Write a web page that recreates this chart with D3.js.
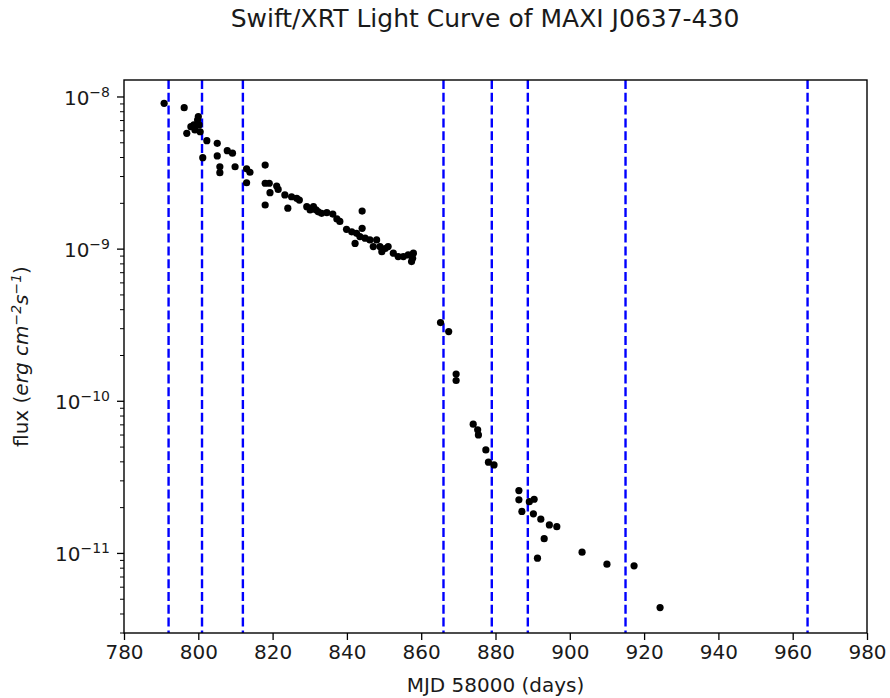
<!DOCTYPE html>
<html>
<head>
<meta charset="utf-8">
<script src="https://cdn.jsdelivr.net/npm/d3@7.9.0/dist/d3.min.js"></script>
<style>
  body { margin: 0; background: #fff; }
  text { font-family: "DejaVu Sans", sans-serif; fill: #1a1a1a; }
</style>
</head>
<body>
<svg id="chart" width="890" height="698"></svg>
<script>
// observation days (MJD - 58000)
const mjd = [
  790.8, 796.2, 796.9, 798.0, 798.8, 799.1, 799.8, 800.2, 800.5, 800.0,
  802.3, 805.1, 801.2, 805.1, 805.8, 805.8, 807.8, 809.2, 809.9, 813.0,
  813.9, 813.0, 818.0, 818.0, 819.1, 819.3, 821.1, 821.5, 823.3, 825.1,
  826.5, 827.2, 818.0, 824.1, 829.2, 830.1, 831.0, 831.7, 832.3, 833.2,
  834.6, 836.2, 837.3, 838.1, 844.1, 839.9, 841.3, 842.6, 844.1, 843.5,
  842.2, 844.9, 846.2, 847.1, 848.0, 848.9, 849.4, 850.3, 851.1, 852.5,
  853.8, 855.2, 856.5, 857.9, 857.7, 857.4,
  865.2, 867.4, 869.4, 869.4, 874.0, 875.2, 875.4, 877.4, 878.1, 879.6,
  886.3, 886.3, 887.1, 889.1, 890.4, 890.2, 892.2, 893.1, 894.5, 896.5,
  891.3, 903.3, 910.0, 917.3, 924.3
];
// flux in erg cm^-2 s^-1
const flux = [
  9.09e-9, 8.50e-9, 5.77e-9, 6.38e-9, 6.55e-9, 6.07e-9, 7.06e-9, 6.55e-9, 5.91e-9, 7.42e-9,
  5.16e-9, 4.96e-9, 3.99e-9, 4.10e-9, 3.48e-9, 3.18e-9, 4.44e-9, 4.27e-9, 3.48e-9, 3.37e-9,
  3.20e-9, 2.73e-9, 3.57e-9, 2.71e-9, 2.71e-9, 2.35e-9, 2.60e-9, 2.47e-9, 2.27e-9, 2.21e-9,
  2.16e-9, 2.10e-9, 1.95e-9, 1.86e-9, 1.90e-9, 1.81e-9, 1.90e-9, 1.81e-9, 1.76e-9, 1.72e-9,
  1.74e-9, 1.70e-9, 1.58e-9, 1.52e-9, 1.78e-9, 1.35e-9, 1.30e-9, 1.27e-9, 1.37e-9, 1.21e-9,
  1.09e-9, 1.18e-9, 1.15e-9, 1.04e-9, 1.15e-9, 1.04e-9, 9.63e-10, 1.01e-9, 1.04e-9, 9.40e-10,
  8.93e-10, 8.93e-10, 9.16e-10, 9.40e-10, 8.71e-10, 8.28e-10,
  3.29e-10, 2.87e-10, 1.51e-10, 1.37e-10, 7.07e-11, 6.49e-11, 6.01e-11, 4.79e-11, 3.98e-11, 3.82e-11,
  2.59e-11, 2.25e-11, 1.89e-11, 2.19e-11, 2.27e-11, 1.82e-11, 1.68e-11, 1.25e-11, 1.54e-11, 1.50e-11,
  9.31e-12, 1.02e-11, 8.50e-12, 8.29e-12, 4.41e-12
];
// dashed markers
const vlines = [792, 801, 812, 866, 879, 888.7, 915, 964];

const xTicks = [780, 800, 820, 840, 860, 880, 900, 920, 940, 960, 980];
const yDecades = [-11, -10, -9, -8];

const svg = d3.select('#chart');
const m = { left: 124, right: 867, top: 80, bottom: 633 };

const x = d3.scaleLinear().domain([780, 980]).range([m.left, m.right]);
const y = d3.scaleLog().domain([3.0e-12, 1.293e-8]).range([m.bottom, m.top]);

// dashed lines
svg.append('g').selectAll('line')
  .data(vlines)
  .join('line')
  .attr('x1', d => x(d)).attr('x2', d => x(d))
  .attr('y1', m.top).attr('y2', m.bottom)
  .attr('stroke', '#0000ff')
  .attr('stroke-width', 2.4)
  .attr('stroke-dasharray', '9,3.8');

// points
svg.append('g').selectAll('circle')
  .data(mjd.map((d, i) => [d, flux[i]]))
  .join('circle')
  .attr('cx', d => x(d[0]))
  .attr('cy', d => y(d[1]))
  .attr('r', 3.6)
  .attr('fill', '#000');

// frame
svg.append('rect')
  .attr('x', m.left).attr('y', m.top)
  .attr('width', m.right - m.left).attr('height', m.bottom - m.top)
  .attr('fill', 'none').attr('stroke', '#000').attr('stroke-width', 1.4);

// x axis
const xAxis = svg.append('g')
  .attr('transform', `translate(0,${m.bottom})`)
  .call(d3.axisBottom(x).tickValues(xTicks).tickSize(7).tickPadding(5).tickFormat(d3.format('d')));
xAxis.select('.domain').remove();
xAxis.selectAll('line').attr('stroke-width', 1.3);
xAxis.selectAll('text').attr('font-size', 20).attr('font-family', 'DejaVu Sans').attr('fill', '#1a1a1a');

// y axis minor ticks
const minor = [];
for (let e = -12; e <= -8; e++) {
  for (let k = 2; k <= 9; k++) {
    const v = k * Math.pow(10, e);
    if (v >= y.domain()[0] && v <= y.domain()[1]) minor.push(v);
  }
}
svg.append('g').selectAll('line')
  .data(minor)
  .join('line')
  .attr('x1', m.left - 4).attr('x2', m.left)
  .attr('y1', d => y(d)).attr('y2', d => y(d))
  .attr('stroke', '#000').attr('stroke-width', 1);

// y axis major ticks + labels
const yMajor = svg.append('g').selectAll('g')
  .data(yDecades)
  .join('g')
  .attr('transform', d => `translate(0,${y(Math.pow(10, d))})`);
yMajor.append('line')
  .attr('x1', m.left - 7).attr('x2', m.left)
  .attr('stroke', '#000').attr('stroke-width', 1.3);
const yLab = yMajor.append('text')
  .attr('x', m.left - 14)
  .attr('dy', '0.38em')
  .attr('text-anchor', 'end')
  .attr('font-size', 20);
yLab.append('tspan').text('10');
yLab.append('tspan')
  .attr('dy', '-0.55em')
  .attr('font-size', 14)
  .text(d => '\u2212' + Math.abs(d));

// title
svg.append('text')
  .attr('x', 485).attr('y', 27)
  .attr('text-anchor', 'middle')
  .attr('font-size', 25)
  .text('Swift/XRT Light Curve of MAXI J0637-430');

// x label
svg.append('text')
  .attr('x', (m.left + m.right) / 2).attr('y', 692)
  .attr('text-anchor', 'middle')
  .attr('font-size', 20)
  .text('MJD 58000 (days)');

// y label with math part
const yl = svg.append('text')
  .attr('transform', `translate(28,${(m.top + m.bottom) / 2}) rotate(-90)`)
  .attr('text-anchor', 'middle')
  .attr('font-size', 20);
yl.append('tspan').text('flux (');
yl.append('tspan').attr('font-style', 'italic').text('erg cm');
yl.append('tspan').attr('font-style', 'italic').attr('font-size', 14).attr('dy', '-0.5em').text('\u22122');
yl.append('tspan').attr('font-style', 'italic').attr('dy', '0.35em').text('s');
yl.append('tspan').attr('font-style', 'italic').attr('font-size', 14).attr('dy', '-0.5em').text('\u22121');
yl.append('tspan').attr('dy', '0.35em').text(')');
</script>
</body>
</html>
